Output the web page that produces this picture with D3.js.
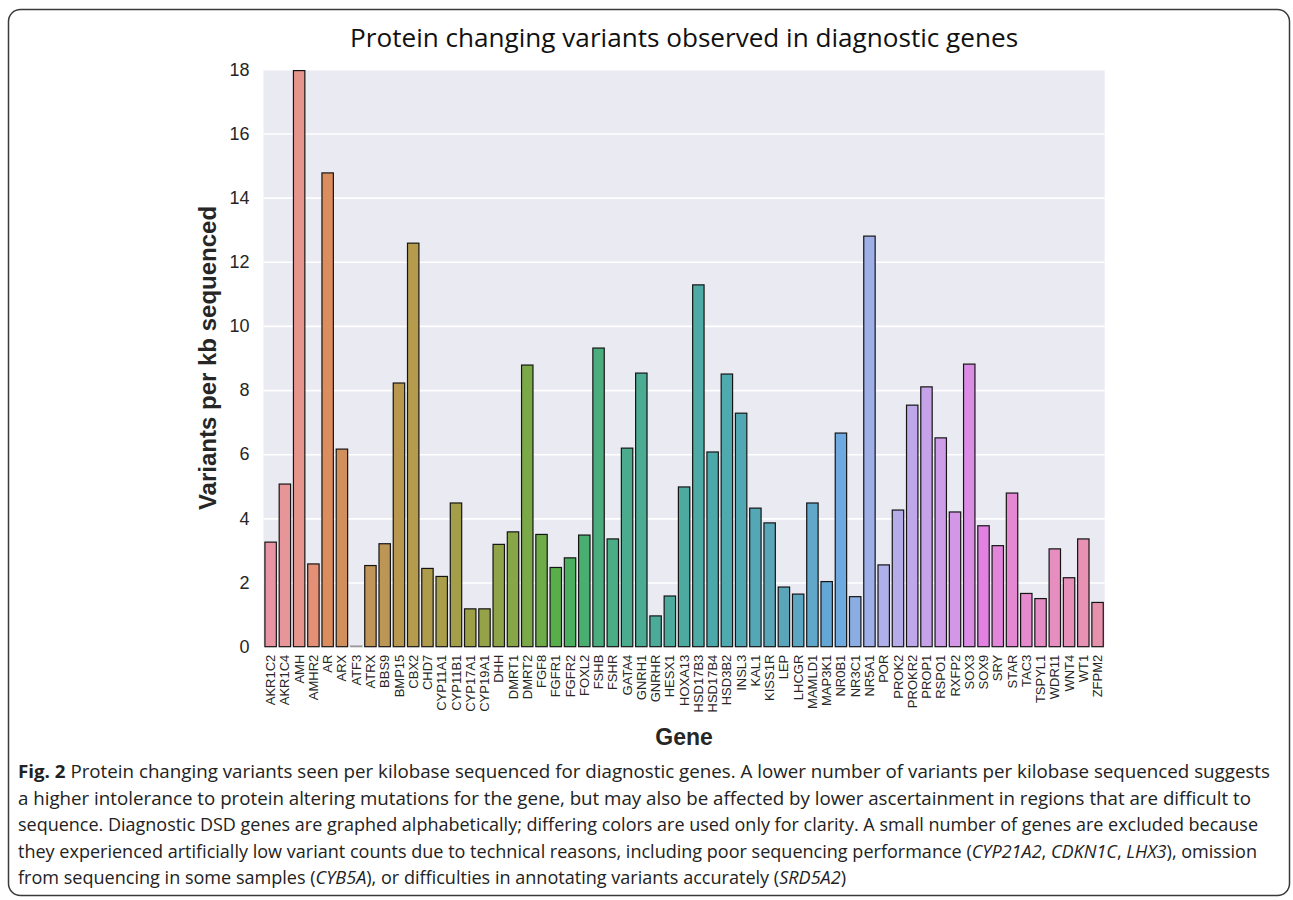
<!DOCTYPE html>
<html>
<head>
<meta charset="utf-8">
<script src="https://cdn.jsdelivr.net/npm/d3@7"></script>
<style>
  html, body { margin: 0; padding: 0; background: #fff; }
  svg { display: block; }
</style>
</head>
<body>
<svg width="1293" height="900"></svg>
<script>
const genes = ["AKR1C2","AKR1C4","AMH","AMHR2","AR","ARX","ATF3","ATRX","BBS9","BMP15",
  "CBX2","CHD7","CYP11A1","CYP11B1","CYP17A1","CYP19A1","DHH","DMRT1","DMRT2","FGF8",
  "FGFR1","FGFR2","FOXL2","FSHB","FSHR","GATA4","GNRH1","GNRHR","HESX1","HOXA13",
  "HSD17B3","HSD17B4","HSD3B2","INSL3","KAL1","KISS1R","LEP","LHCGR","MAMLD1","MAP3K1",
  "NR0B1","NR3C1","NR5A1","POR","PROK2","PROKR2","PROP1","RSPO1","RXFP2","SOX3",
  "SOX9","SRY","STAR","TAC3","TSPYL1","WDR11","WNT4","WT1","ZFPM2"];

const variantsPerKb = [3.26, 5.07, 17.96, 2.58, 14.77, 6.16, 0.02, 2.53, 3.21, 8.22,
  12.58, 2.44, 2.19, 4.48, 1.18, 1.18, 3.19, 3.58, 8.78, 3.50,
  2.47, 2.77, 3.48, 9.31, 3.36, 6.19, 8.53, 0.96, 1.58, 4.98,
  11.28, 6.07, 8.50, 7.28, 4.32, 3.86, 1.86, 1.64, 4.48, 2.03,
  6.66, 1.56, 12.80, 2.55, 4.26, 7.53, 8.10, 6.51, 4.20, 8.81,
  3.77, 3.15, 4.79, 1.66, 1.50, 3.05, 2.15, 3.36, 1.38];

const yTicks = [0, 2, 4, 6, 8, 10, 12, 14, 16, 18];

const captionLines = [
  [["b", "Fig. 2"], ["n", " Protein changing variants seen per kilobase sequenced for diagnostic genes. A lower number of variants per kilobase sequenced suggests"]],
  [["n", "a higher intolerance to protein altering mutations for the gene, but may also be affected by lower ascertainment in regions that are difficult to"]],
  [["n", "sequence. Diagnostic DSD genes are graphed alphabetically; differing colors are used only for clarity. A small number of genes are excluded because"]],
  [["n", "they experienced artificially low variant counts due to technical reasons, including poor sequencing performance ("], ["i", "CYP21A2"], ["n", ", "], ["i", "CDKN1C"], ["n", ", "], ["i", "LHX3"], ["n", "), omission"]],
  [["n", "from sequencing in some samples ("], ["i", "CYB5A"], ["n", "), or difficulties in annotating variants accurately ("], ["i", "SRD5A2"], ["n", ")"]]
];
const captionWidths = [1252, 1233, 1240, 1239, 828];

// husl (hsluv) -> rgb, as used by seaborn's husl_palette
const M = [[3.240969941904521, -1.537383177570093, -0.498610760293],
  [-0.96924363628087, 1.87596750150772, 0.041555057407175],
  [0.055630079696993, -0.20397695888897, 1.056971514242878]];
const refU = 0.19783000664283, refV = 0.46831999493879;
const kappa = 903.2962962, epsilon = 0.0088564516;

function bounds(L) {
  const out = [];
  const s1 = Math.pow(L + 16, 3) / 1560896;
  const s2 = s1 > epsilon ? s1 : L / kappa;
  for (const [m1, m2, m3] of M) {
    for (const t of [0, 1]) {
      const top1 = (284517 * m1 - 94839 * m3) * s2;
      const top2 = (838422 * m3 + 769860 * m2 + 731718 * m1) * L * s2 - 769860 * t * L;
      const bottom = (632260 * m3 - 126452 * m2) * s2 + 126452 * t;
      out.push([top1 / bottom, top2 / bottom]);
    }
  }
  return out;
}

function maxChroma(L, H) {
  const hr = H / 360 * Math.PI * 2;
  let min = Infinity;
  for (const [slope, icpt] of bounds(L)) {
    const len = icpt / (Math.sin(hr) - slope * Math.cos(hr));
    if (len >= 0) min = Math.min(min, len);
  }
  return min;
}

function husl(H, S, L) {
  const C = maxChroma(L, H) / 100 * S;
  const hr = H / 360 * Math.PI * 2;
  const U = Math.cos(hr) * C, V = Math.sin(hr) * C;
  const vu = U / (13 * L) + refU, vv = V / (13 * L) + refV;
  const Y = L <= 8 ? L / kappa : Math.pow((L + 16) / 116, 3);
  const X = 0 - (9 * Y * vu) / ((vu - 4) * vv - vu * vv);
  const Z = (9 * Y - 15 * vv * Y - vv * X) / (3 * vv);
  const lin = M.map((r) => r[0] * X + r[1] * Y + r[2] * Z);
  const rgb = lin.map((c) => {
    const v = c <= 0.0031308 ? 12.92 * c : 1.055 * Math.pow(c, 1 / 2.4) - 0.055;
    return Math.max(0, Math.min(1, v)) * 255;
  });
  return d3.rgb(rgb[0], rgb[1], rgb[2]);
}

const palette = genes.map((g, i) => {
  const h = ((i / genes.length + 0.01) % 1) * 359;
  const c = d3.hsl(husl(h, 0.9 * 99, 0.65 * 99));
  c.s *= 0.72; // seaborn barplot desaturation
  c.l = Math.min(0.95, c.l + 0.04);
  return c.formatHex();
});

const svg = d3.select("svg");

// figure frame
svg.append("rect")
  .attr("x", 8.5).attr("y", 9.5)
  .attr("width", 1281).attr("height", 886)
  .attr("rx", 12).attr("ry", 12)
  .attr("fill", "none")
  .attr("stroke", "#3a3a3a")
  .attr("stroke-width", 1.5);

const margin = { left: 263.5, right: 1104.7, top: 69.3, bottom: 646.7 };

const x = d3.scaleBand()
  .domain(genes)
  .range([margin.left, margin.right])
  .paddingInner(0.2)
  .paddingOuter(0.1);

const y = d3.scaleLinear()
  .domain([0, 18])
  .range([margin.bottom, margin.top]);

// plot background + grid
svg.append("rect")
  .attr("x", margin.left).attr("y", margin.top)
  .attr("width", margin.right - margin.left)
  .attr("height", margin.bottom - margin.top)
  .attr("fill", "#eaeaf2");

const yAxis = svg.append("g")
  .attr("transform", `translate(${margin.left},0)`)
  .call(d3.axisLeft(y).tickValues(yTicks).tickSize(0).tickPadding(14));
yAxis.select(".domain").remove();
yAxis.selectAll(".tick line").clone()
  .attr("x2", margin.right - margin.left)
  .attr("stroke", "#fff")
  .attr("stroke-width", 1.6);
yAxis.selectAll("text")
  .attr("fill", "#262626")
  .style("font-family", "'Liberation Sans', Arial, sans-serif")
  .style("font-size", "18px");

// bars
svg.append("g")
  .selectAll("rect")
  .data(genes)
  .enter()
  .append("rect")
  .attr("x", (d) => x(d))
  .attr("width", x.bandwidth())
  .attr("y", (d, i) => y(variantsPerKb[i]))
  .attr("height", (d, i) => y(0) - y(variantsPerKb[i]))
  .attr("fill", (d, i) => palette[i])
  .attr("stroke", (d, i) => (variantsPerKb[i] < 0.1 ? "#999" : "#151515"))
  .attr("stroke-width", 1.2);

const xAxis = svg.append("g")
  .attr("transform", `translate(0,${margin.bottom})`)
  .call(d3.axisBottom(x).tickSize(0).tickPadding(0));
xAxis.select(".domain").remove();
xAxis.selectAll("text")
  .attr("fill", "#262626")
  .attr("transform", "rotate(-90)")
  .attr("text-anchor", "end")
  .attr("x", -8)
  .attr("y", 0)
  .attr("dy", "0.35em")
  .style("font-family", "'Liberation Sans', Arial, sans-serif")
  .style("font-size", "13px");

// labels
svg.append("text")
  .attr("x", (margin.left + margin.right) / 2)
  .attr("y", 47)
  .attr("text-anchor", "middle")
  .attr("textLength", 668)
  .attr("lengthAdjust", "spacingAndGlyphs")
  .style("font-family", "'Open Sans', sans-serif")
  .style("font-size", "25px")
  .attr("fill", "#111")
  .text("Protein changing variants observed in diagnostic genes");

svg.append("text")
  .attr("transform", `translate(216,${(margin.top + margin.bottom) / 2}) rotate(-90)`)
  .attr("text-anchor", "middle")
  .style("font-family", "'Liberation Sans', Arial, sans-serif")
  .style("font-size", "24px")
  .style("font-weight", "bold")
  .attr("fill", "#262626")
  .text("Variants per kb sequenced");

svg.append("text")
  .attr("x", (margin.left + margin.right) / 2)
  .attr("y", 745)
  .attr("text-anchor", "middle")
  .style("font-family", "'Liberation Sans', Arial, sans-serif")
  .style("font-size", "23px")
  .style("font-weight", "bold")
  .attr("fill", "#262626")
  .text("Gene");

// caption
const caption = svg.append("g")
  .style("font-family", "'Open Sans', sans-serif")
  .style("font-size", "18px")
  .attr("fill", "#222");

captionLines.forEach((parts, li) => {
  const t = caption.append("text")
    .attr("x", 18)
    .attr("y", 778 + li * 26.5)
    .attr("textLength", captionWidths[li])
    .attr("lengthAdjust", "spacingAndGlyphs");
  parts.forEach(([kind, str]) => {
    t.append("tspan")
      .style("font-weight", kind === "b" ? "bold" : null)
      .style("font-style", kind === "i" ? "italic" : null)
      .text(str);
  });
});
</script>
</body>
</html>
